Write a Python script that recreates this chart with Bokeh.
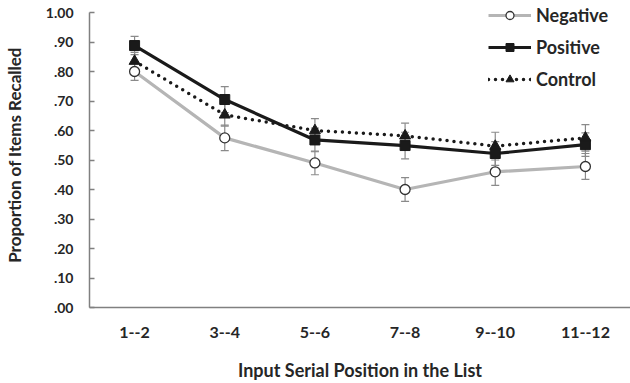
from bokeh.plotting import figure
from bokeh.models import (ColumnDataSource, FactorRange, Range1d, FixedTicker, Whisker,
                          TeeHead, Legend, LegendItem)
from bokeh.embed import file_html
from bokeh.resources import INLINE

categories = ["1--2", "3--4", "5--6", "7--8", "9--10", "11--12"]
negative = [0.800, 0.575, 0.490, 0.400, 0.460, 0.478]
positive = [0.888, 0.705, 0.568, 0.549, 0.522, 0.552]
control = [0.835, 0.653, 0.600, 0.582, 0.547, 0.575]
neg_err = [0.030, 0.043, 0.040, 0.040, 0.046, 0.044]
pos_err = [0.031, 0.044, 0.040, 0.045, 0.040, 0.040]
con_err = [0.030, 0.038, 0.040, 0.043, 0.047, 0.045]
y_ticks = [0.0, 0.1, 0.2, 0.3, 0.4, 0.5, 0.6, 0.7, 0.8, 0.9, 1.0]
y_tick_labels = [".00", ".10", ".20", ".30", ".40", ".50", ".60", ".70", ".80", ".90", "1.00"]

FONT = "Lato"
TXT = "#262626"
AX = "#808080"

# frame: top at 2px, 1.00 at 12px, 0 at 307px -> 295 px per unit
p = figure(width=630, height=383, x_range=FactorRange(*categories, range_padding=0),
           y_range=Range1d(0, 1 + 10 / 295), output_backend="svg", toolbar_location=None,
           min_border_left=88, min_border_right=0, min_border_top=2, min_border_bottom=76)
p.outline_line_color = None
p.xgrid.grid_line_color = None
p.ygrid.grid_line_color = None
p.background_fill_color = "white"
p.border_fill_color = "white"

# y axis
p.yaxis.bounds = (0, 1)
p.yaxis.ticker = FixedTicker(ticks=y_ticks)
p.yaxis.major_label_overrides = {t: l for t, l in zip(y_ticks, y_tick_labels)}
p.yaxis.major_tick_in = 5
p.yaxis.major_tick_out = 0
p.yaxis.minor_tick_line_color = None
p.yaxis.axis_line_color = AX
p.yaxis.axis_line_width = 1.5
p.yaxis.major_tick_line_color = AX
p.yaxis.major_tick_line_width = 1.5
p.yaxis.major_label_standoff = 16
p.yaxis.major_label_text_font = FONT
p.yaxis.major_label_text_font_style = "bold"
p.yaxis.major_label_text_font_size = "14px"
p.yaxis.major_label_text_color = TXT
p.yaxis.axis_label = "Proportion of Items Recalled"
p.yaxis.axis_label_text_font = FONT
p.yaxis.axis_label_text_font_style = "bold"
p.yaxis.axis_label_text_font_size = "17px"
p.yaxis.axis_label_text_color = TXT
p.yaxis.axis_label_standoff = 18

# x axis
p.xaxis.major_tick_line_color = None
p.xaxis.minor_tick_line_color = None
p.xaxis.axis_line_color = AX
p.xaxis.axis_line_width = 1.5
p.xaxis.major_label_standoff = 13
p.xaxis.major_label_text_font = FONT
p.xaxis.major_label_text_font_style = "bold"
p.xaxis.major_label_text_font_size = "16px"
p.xaxis.major_label_text_color = TXT
p.xaxis.axis_label = "Input Serial Position in the List"
p.xaxis.axis_label_text_font = FONT
p.xaxis.axis_label_text_font_style = "bold"
p.xaxis.axis_label_text_font_size = "18px"
p.xaxis.axis_label_text_color = TXT
p.xaxis.axis_label_standoff = 18

# error bars
for vals, errs in [(negative, neg_err), (positive, pos_err), (control, con_err)]:
    src = ColumnDataSource(dict(x=categories,
                                upper=[v + e for v, e in zip(vals, errs)],
                                lower=[v - e for v, e in zip(vals, errs)]))
    w = Whisker(base="x", upper="upper", lower="lower", source=src, level="underlay",
                line_color="#8a8a8a", line_width=1.2,
                upper_head=TeeHead(size=8, line_color="#8a8a8a", line_width=1.2),
                lower_head=TeeHead(size=8, line_color="#8a8a8a", line_width=1.2))
    p.add_layout(w)

src_n = ColumnDataSource(dict(x=categories, y=negative))
src_p = ColumnDataSource(dict(x=categories, y=positive))
src_c = ColumnDataSource(dict(x=categories, y=control))

ln = p.line("x", "y", source=src_n, line_color="#b5b5b5", line_width=3.2)
mn = p.scatter("x", "y", source=src_n, marker="circle", size=10, fill_color="white",
               line_color="#333333", line_width=1.3)
lp = p.line("x", "y", source=src_p, line_color="#1a1a1a", line_width=3.2)
mp = p.scatter("x", "y", source=src_p, marker="square", size=10, fill_color="#1a1a1a",
               line_color="#1a1a1a")
lc = p.line("x", "y", source=src_c, line_color="#1a1a1a", line_width=3.5,
            line_dash="0 7", line_cap="round")
mc = p.scatter("x", "y", source=src_c, marker="triangle", size=11, fill_color="#1a1a1a",
               line_color="#1a1a1a")

legend = Legend(items=[LegendItem(label="Negative", renderers=[ln, mn]),
                       LegendItem(label="Positive", renderers=[lp, mp]),
                       LegendItem(label="Control", renderers=[lc, mc])],
                location=(399, 217), orientation="vertical",
                padding=0, margin=0, spacing=10, glyph_width=43, glyph_height=20,
                label_height=20, label_standoff=5,
                label_text_font=FONT, label_text_font_style="bold",
                label_text_font_size="18px", label_text_color=TXT,
                border_line_alpha=0, background_fill_alpha=0)
p.add_layout(legend)

open("out.html", "w").write(file_html(p, INLINE))
